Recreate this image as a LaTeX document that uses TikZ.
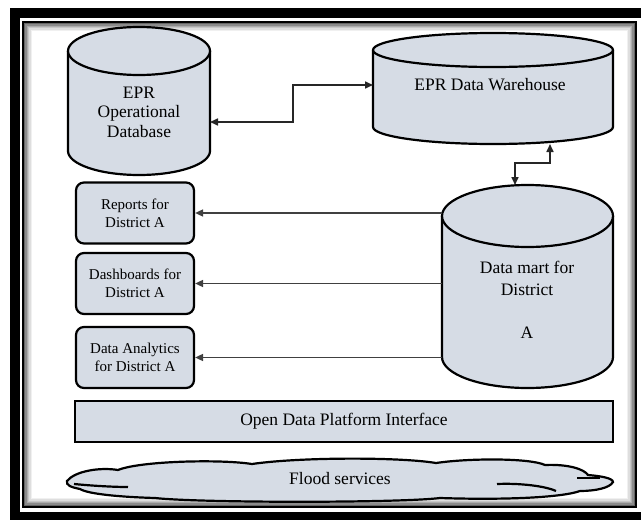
\documentclass[tikz,border=0pt]{standalone}
\usepackage{fontspec}
\setmainfont{Liberation Serif}
\usetikzlibrary{arrows.meta}
\definecolor{cfill}{RGB}{214,220,229}
\newcommand\dbcyl[6]{% name, cx, top, rx, bottom, ry
  \path[shapeline] ({#2-#4},{#3+#6}) -- ({#2-#4},{#5-#6})
     arc[start angle=180,end angle=360,x radius=#4pt,y radius=#6pt]
     -- ({#2+#4},{#3+#6});
  \draw[shapeline] (#2,{#3+#6}) ellipse[x radius=#4pt,y radius=#6pt];
  \node[holder, minimum width={2*#4pt}, minimum height={(#5-#3)*1pt}] (#1) at (#2,{(#3+#5)/2}) {};
}
\begin{document}
\begin{tikzpicture}[x=1pt,y=-1pt,
  shapeline/.style={draw=black, line width=2.2pt, fill=cfill},
  bigtext/.style={font=\fontsize{17.5}{19.5}\selectfont, align=center, inner sep=0pt},
  smalltext/.style={font=\fontsize{15}{18}\selectfont, align=center},
  rbox/.style={shapeline, rounded corners=8pt, minimum width=118pt, minimum height=61pt, inner sep=0pt, smalltext},
  tip/.tip={Triangle[length=8pt,width=7pt]},
  conn/.style={draw=black!75, line width=1.6pt, -tip},
  conn2/.style={draw=black!85, line width=1.6pt, tip-tip},
  holder/.style={inner sep=0pt, outer sep=0pt}
]
\useasboundingbox (0,0) rectangle (641,520);
\fill[white] (0,0) rectangle (641,520);
% frame
\draw[line width=10pt] (15,12.5) rectangle (655,517);
\foreach \i/\c in {1/60,2/45,3/32,4/22,5/13,6/6}
  \draw[black!\c, line width=1.4pt] ({23.5+1.3*\i},{22.5+1.3*\i}) rectangle ({635.5-1.3*\i},{506.5-1.3*\i});
\draw[line width=2.4pt] (23,22) rectangle (636,507);

% cylinders
\dbcyl{op}{139}{27}{71}{175}{24}
\node[bigtext] (opt) at (139,112) {EPR\\Operational\\Database};

\dbcyl{wh}{493}{33}{120}{144}{17}
\node[bigtext] (wht) at (490,85) {EPR Data Warehouse};

\dbcyl{dm}{527.5}{185}{85.5}{388}{31}
\node[bigtext, font=\fontsize{17.5}{21.5}\selectfont] (dmt) at (527,300) {Data mart for\\District\\[21.5pt]A};

% boxes
\node[rbox] (b1) at (135,213) {Reports for\\District A};
\node[rbox] (b2) at (135,283.5) {Dashboards for\\District A};
\node[rbox] (b3) at (135,357.5) {Data Analytics\\for District A};

% open data platform
\node[shapeline, minimum width=538pt, minimum height=41pt, inner sep=0pt, bigtext] (odp) at (344,421.5) {Open Data Platform Interface};

% cloud
\path[shapeline] (67,481)
  .. controls (75,471) and (100,467) .. (118,470)
  .. controls (140,461) and (220,459) .. (252,464)
  .. controls (300,457) and (400,457) .. (436,463)
  .. controls (470,458) and (530,458) .. (545,465)
  .. controls (568,464) and (584,469) .. (588,475)
  .. controls (600,476) and (613,478) .. (613,482)
  .. controls (610,488) and (595,491) .. (580,491)
  .. controls (560,498) and (500,500) .. (440,498)
  .. controls (400,503) and (200,503) .. (155,498)
  .. controls (120,497) and (88,494) .. (80,489)
  .. controls (70,487) and (66,485) .. cycle;
\draw[line width=2.2pt] (74,484) .. controls (95,486) and (115,487) .. (128,487);
\draw[line width=2.2pt] (577,478) -- (600,478);
\draw[line width=2.2pt] (497,484) .. controls (520,483) and (545,486) .. (556,491);
\node[bigtext] (flood) at (340,479) {Flood services};

% connectors
\coordinate (j1) at (293,122);
\coordinate (j2) at (293,85);
\draw[conn2] (op.east |- j1) -- (j1) -- (j2) -- (wh.west |- j2);
\coordinate (k1) at (550,163);
\coordinate (k2) at (515,163);
\draw[conn2] (wh.south -| k1) -- (k1) -- (k2) -- (dm.north -| k2);
\draw[conn] (dm.west |- b1.east) -- (b1.east);
\draw[conn] (dm.west |- b2.east) -- (b2.east);
\draw[conn] (dm.west |- b3.east) -- (b3.east);
\end{tikzpicture}
\end{document}
